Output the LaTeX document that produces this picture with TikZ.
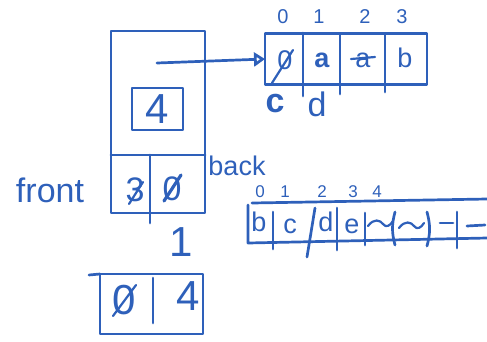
\documentclass[tikz,border=0pt]{standalone}
\usepackage{fontspec}
\setmainfont{Liberation Sans}
\usetikzlibrary{arrows.meta}
\definecolor{pen}{RGB}{46,96,186}
\begin{document}
\begin{tikzpicture}[x=1pt,y=-1pt,color=pen,line width=2.7pt,line cap=round,line join=round,
  every node/.style={inner sep=0pt,outer sep=0pt},
  box/.style={draw,rectangle},
  huge/.style={font=\fontsize{42}{42}\selectfont},
  large/.style={font=\fontsize{34}{34}\selectfont},
  mid/.style={font=\fontsize{27}{27}\selectfont},
  idx/.style={font=\fontsize{20}{20}\selectfont},
  tiny/.style={font=\fontsize{17}{17}\selectfont},
  strike/.style={line width=2.2pt},
  wave/.style={line width=2.2pt}]
\useasboundingbox (0,0) rectangle (487,341);

% queue object: header box, pointer slot, front/back cells
\node[box,minimum width=94pt,minimum height=182pt] (queue) at (158,122) {};
\node[box,minimum width=51pt,minimum height=42pt,huge] (size) at (157.5,109) {4};
\draw (queue.west |- 0,155) -- (queue.east |- 0,155);
\draw (150,155) -- (150,223);
\node[large] (front) at (135,190) {3};
\node[large] (back) at (172,189) {0};
\draw[strike] (129,204) -- (143,182);
\draw[line width=3.2pt] (164,201) -- (181,175);
\node[large] (frontlbl) at (50,190) {front};
\node[mid] (backlbl) at (237,166) {back};

% old array of capacity 4
\node[box,minimum width=162pt,minimum height=51pt] (arr) at (346,59) {};
\coordinate (ptr) at (157,63);
\draw[-{Triangle[open,length=11pt,width=14pt]}] (ptr) -- (arr.west);
\draw (303,33) -- (303,96);
\draw (340,34) -- (340,94);
\draw (385,34) -- (385,92);
\foreach \i/\x in {0/283,1/319,2/365,3/402}
  \node[idx] (ai\i) at (\x,17) {\i};
\node[mid] (a0) at (285,60) {0};
\draw[strike] (272,83) -- (293,50);
\node[mid,font=\fontsize{27}{27}\bfseries] (a1) at (322,60) {a};
\node[mid] (a2) at (363,60) {a};
\draw[strike] (351,59) -- (375,57);
\node[mid] (a3) at (405,58) {b};
\node[large,font=\fontsize{34}{34}\bfseries] (c) at (275,104) {c};
\node[large] (d) at (317,104) {d};

% result pair below the queue
\node[huge] (one) at (181,242) {1};
\node[box,minimum width=103pt,minimum height=60pt] (pair) at (151.5,304) {};
\draw (89,275) -- (pair.north west);
\draw (153,278) -- (153,323);
\node[huge] (p0) at (124,300) {0};
\draw[strike] (113,316) -- (136,285);
\node[huge] (p1) at (188,296) {4};

% grown array of capacity 8
\coordinate (nl) at (248,205);
\coordinate (nt) at (487,199);
\coordinate (nb) at (487,238);
\draw (252,203) -- (nt);
\draw (nl) -- (248,243) -- (nb);
\draw (273,212) -- (273,249);
\draw (315,208) -- (307,257);
\draw (337,208) -- (337,250);
\draw (365,213) -- (365,245);
\draw (395,212) to[bend right=15] (395,245);
\draw (427,212) to[bend left=15] (427,246);
\draw (457,212) -- (457,248);
\foreach \i/\x in {0/260,1/285,2/322,3/353,4/377}
  \node[tiny] (bi\i) at (\x,192) {\i};
\node[mid] (b0) at (259,222) {b};
\node[mid] (b1) at (290,226) {c};
\node[mid] (b2) at (326,222) {d};
\node[mid] (b3) at (352,226) {e};
\draw[wave] (368,226) .. controls (374,218) and (380,220) .. (383,224)
  .. controls (386,228) and (390,226) .. (393,221);
\draw[wave] (399,228) .. controls (405,220) and (411,222) .. (414,226)
  .. controls (417,230) and (421,228) .. (424,223);
\draw (440,223) -- (453,223);
\draw (467,226) -- (485,225);
\end{tikzpicture}
\end{document}
